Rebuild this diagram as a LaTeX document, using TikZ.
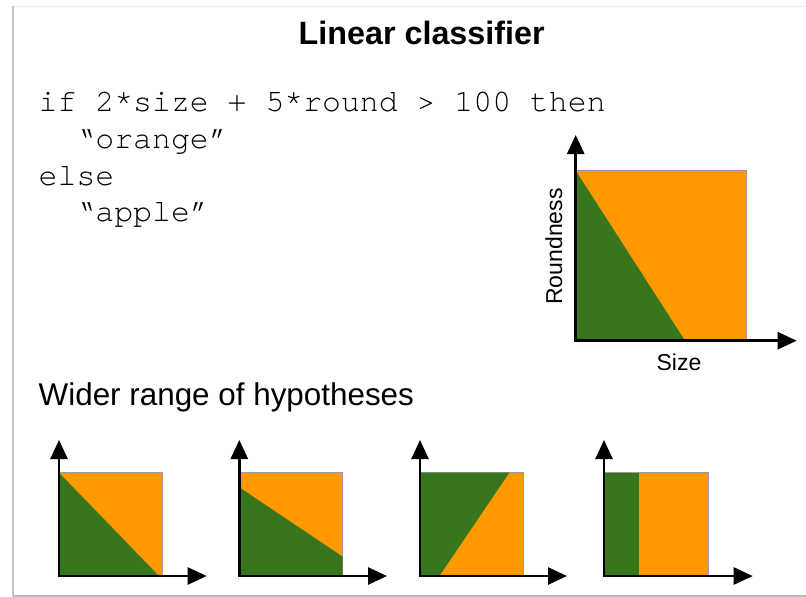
\documentclass[tikz,border=0pt]{standalone}
\usepackage{fontspec}
\setmainfont{Liberation Sans}
\newfontfamily\codefont{TeX Gyre Cursor}
\usetikzlibrary{arrows.meta}
\definecolor{org}{HTML}{FF9900}
\definecolor{grn}{HTML}{38761D}
\begin{document}
\begin{tikzpicture}[x=1pt,y=-1pt,
  axisline/.style={line width=2.6pt,-{Triangle[width=17pt,length=19pt]}},
  codeline/.style={anchor=base west,inner sep=0pt,font=\codefont\fontsize{31.5}{36}\selectfont},
  lbl/.style={inner sep=0pt,font=\fontsize{23}{26}\selectfont}]
\useasboundingbox (0,0) rectangle (806,597);
% slide frame
\fill[white] (13,6) rectangle (806,596);
\draw[gray!15,line width=1pt] (13,6) -- (806,6);
\draw[gray!45,line width=1.2pt] (13,6) -- (13,596);
\draw[gray!55,line width=1.2pt] (13,596) -- (806,596);
% title
\node[anchor=base,inner sep=0pt,font=\bfseries\fontsize{32.3}{36}\selectfont] (title) at (421.7,44.3) {Linear classifier};
% code
\node[codeline] (c1) at (38.5,111.7) {if 2*size + 5*round > 100 then};
\node[codeline] (c2) at (76.3,148.3) {“orange”};
\node[codeline] (c3) at (38.5,185) {else};
\node[codeline] (c4) at (76.3,221.7) {“apple”};
% main chart
\coordinate (mo) at (575.7,340.7);
\fill[org] (575.7,170.7) rectangle (746,340.7);
\draw[gray!80,line width=0.6pt] (575.7,170.7) -- (746,170.7) -- (746,340.7);
\fill[grn] (575.7,170.7) -- (685,340.7) -- (575.7,340.7) -- cycle;
\coordinate (mup) at (575.7,135);
\coordinate (mright) at (796.7,340.7);
\draw[axisline] ([yshift=-1.3pt]mo) -- (mup);
\draw[axisline] ([xshift=-1.3pt]mo) -- (mright);
\node[lbl,rotate=90] (roundness) at (554,246.5) {Roundness};
\node[lbl,anchor=base] (size) at (679,370) {Size};
% subtitle
\node[anchor=base west,inner sep=0pt,font=\fontsize{31.4}{36}\selectfont] (wider) at (38.5,405) {Wider range of hypotheses};
% small charts
% chart 1
\fill[org] (59,472.7) rectangle (162.7,576);
\draw[gray!80,line width=0.6pt] (59,472.7) -- (162.7,472.7) -- (162.7,576);
\fill[grn] (59,472.7) -- (159,576) -- (59,576) -- cycle;
\coordinate (o1) at (59,576);
\coordinate (u1) at (59,440);
\coordinate (r1) at (206.7,576);
\draw[axisline] ([yshift=-1.3pt]o1) -- (u1);
\draw[axisline] ([xshift=-1.3pt]o1) -- (r1);
% chart 2
\fill[org] (239.3,472.7) rectangle (342.7,576);
\draw[gray!80,line width=0.6pt] (239.3,472.7) -- (342.7,472.7) -- (342.7,576);
\fill[grn] (239.3,487.3) -- (342.7,556.7) -- (342.7,576) -- (239.3,576) -- cycle;
\coordinate (o2) at (239.3,576);
\coordinate (u2) at (239.3,440);
\coordinate (r2) at (387,576);
\draw[axisline] ([yshift=-1.3pt]o2) -- (u2);
\draw[axisline] ([xshift=-1.3pt]o2) -- (r2);
% chart 3
\fill[org] (420,472.7) rectangle (523.3,576);
\draw[gray!80,line width=0.6pt] (420,472.7) -- (523.3,472.7) -- (523.3,576);
\fill[grn] (420,472.7) -- (509.3,472.7) -- (439.3,576) -- (420,576) -- cycle;
\coordinate (o3) at (420,576);
\coordinate (u3) at (420,440);
\coordinate (r3) at (567,576);
\draw[axisline] ([yshift=-1.3pt]o3) -- (u3);
\draw[axisline] ([xshift=-1.3pt]o3) -- (r3);
% chart 4
\fill[org] (604,472.7) rectangle (708.3,576);
\draw[gray!80,line width=0.6pt] (604,472.7) -- (708.3,472.7) -- (708.3,576);
\fill[grn] (604,472.7) rectangle (639.3,576);
\coordinate (o4) at (604,576);
\coordinate (u4) at (604,440);
\coordinate (r4) at (752.7,576);
\draw[axisline] ([yshift=-1.3pt]o4) -- (u4);
\draw[axisline] ([xshift=-1.3pt]o4) -- (r4);
\end{tikzpicture}
\end{document}
